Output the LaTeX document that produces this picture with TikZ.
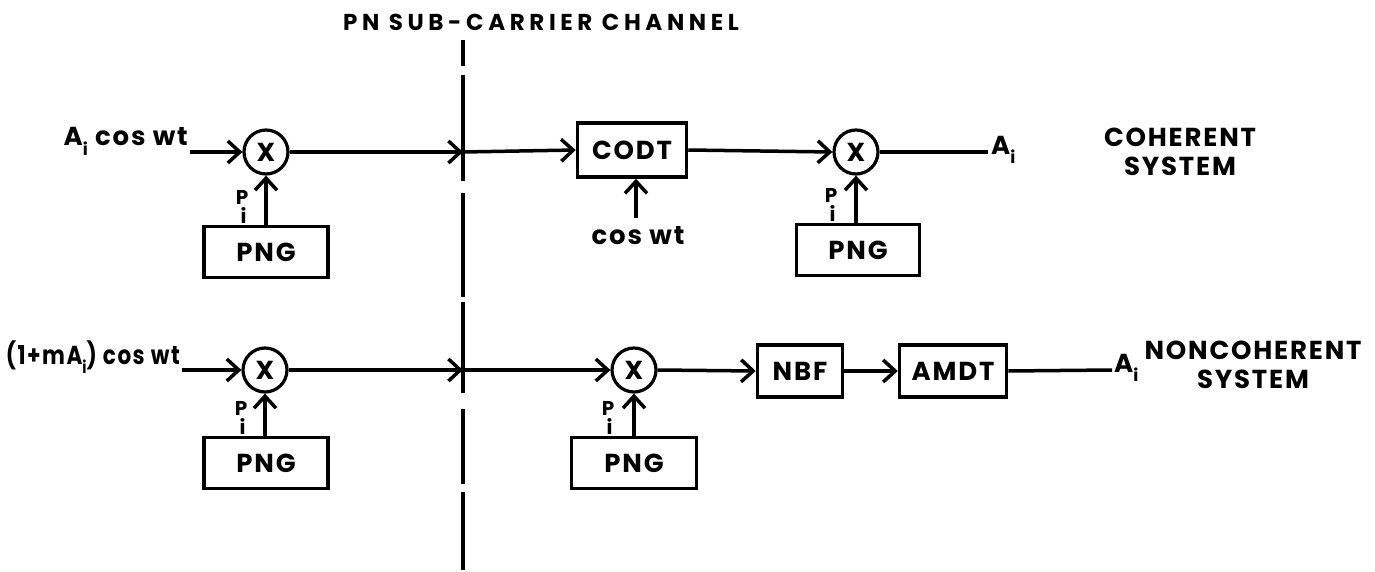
\documentclass[tikz,border=0pt]{standalone}
\usepackage{fontspec}
\setmainfont{Poppins}
\usetikzlibrary{arrows.meta}
\newcommand\lbl{\fontsize{26}{29}\selectfont\bfseries\addfontfeatures{LetterSpace=7}}
\newcommand\ttl{\fontsize{23}{26}\selectfont\bfseries\addfontfeatures{LetterSpace=20}}
\newcommand\pil{\fontsize{20}{20}\selectfont\bfseries}
\newcommand\sbi{\raisebox{-0.35em}{\fontsize{17}{17}\selectfont i}}
\begin{document}
\begin{tikzpicture}[x=1pt,y=-1pt,
  conn/.style={line width=3.5pt},
  arr/.style={conn,-{Straight Barb[length=12pt,width=22pt]}},
  blk/.style={draw,line width=3.5pt,minimum height=51pt,inner sep=0pt,font=\lbl},
  mult/.style={circle,draw,line width=3.2pt,minimum size=44pt,inner sep=0pt,font=\lbl},
  txt/.style={inner sep=0pt,font=\lbl},
  pitxt/.style={inner sep=0pt,font=\pil,align=center}]
\useasboundingbox (0,0) rectangle (1375,572);
% title and channel line
\node[inner sep=0pt,font=\ttl] (title) at (541,22) {PN SUB-CARRIER CHANNEL};
\draw[conn,dash pattern=on 26pt off 9pt on 106pt off 12pt on 104pt off 5pt on 91pt off 16pt on 75pt off 8pt on 80pt] (463,40) -- (463,570);
\coordinate (x1) at (463,152);
\coordinate (x2) at (463,370);
% ---------- coherent system ----------
\node[txt,anchor=base east] (in1) at (188,146) {A\sbi{} cos wt};
\coordinate (s1) at (190,152);
\node[mult] (c1) at (266,152) {X};
\node[blk,minimum width=124pt] (png1) at (266,252) {PNG};
\node[pitxt] (p1) at (242,207) {P\\[-1pt]\hspace{3pt}i};
\node[blk,minimum width=109pt,minimum height=54pt] (codt) at (632,150) {CODT};
\node[txt] (cw) at (638,236) {cos wt};
\coordinate (cwt) at (636,218);
\node[mult] (c2) at (856,152) {X};
\node[blk,minimum width=123pt] (png2) at (858,250) {PNG};
\node[pitxt] (p2) at (831,205) {P\\[-1pt]\hspace{3pt}i};
\coordinate (e1) at (988,152);
\node[txt,anchor=west] (o1) at (991,150) {A\sbi};
\node[txt,align=center] (coh) at (1180,152) {COHERENT\\SYSTEM};
\draw[arr] (s1) -- (c1.west);
\draw[arr] (png1.north -| c1) -- (c1.south);
\draw[arr] (c1.east) -- (x1);
\draw[arr] (x1) -- (codt.west);
\draw[arr] (cwt) -- (codt.south -| cwt);
\draw[arr] (codt.east) -- (c2.west);
\draw[arr] (png2.north -| c2) -- (c2.south);
\draw[conn] (c2.east) -- (e1);
% ---------- noncoherent system ----------
\node[txt,anchor=base east] (in2) at (180,364) {\resizebox{174pt}{\height}{(1+mA\sbi) cos wt}};
\coordinate (s2) at (182,370);
\node[mult] (c3) at (265,370) {X};
\node[blk,minimum width=124pt] (png3) at (266,463) {PNG};
\node[pitxt] (p3) at (241,418) {P\\[-1pt]\hspace{3pt}i};
\node[mult] (c4) at (634,370) {X};
\node[blk,minimum width=125pt] (png4) at (634,463) {PNG};
\node[pitxt] (p4) at (608,418) {P\\[-1pt]\hspace{3pt}i};
\node[blk,minimum width=85pt,minimum height=52pt] (nbf) at (800,371) {NBF};
\node[blk,minimum width=107pt,minimum height=52pt] (amdt) at (953,371) {AMDT};
\coordinate (e2) at (1112,370);
\node[txt,anchor=west] (o2) at (1114,368) {A\sbi};
\node[txt,align=center] (nco) at (1253,365) {NONCOHERENT\\SYSTEM};
\draw[arr] (s2) -- (c3.west);
\draw[arr] (png3.north -| c3) -- (c3.south);
\draw[arr] (c3.east) -- (x2);
\draw[arr] (x2) -- (c4.west);
\draw[arr] (png4.north -| c4) -- (c4.south);
\draw[arr] (c4.east) -- (nbf.west);
\draw[arr] (nbf.east) -- (amdt.west);
\draw[conn] (amdt.east) -- (e2);
\end{tikzpicture}
\end{document}
